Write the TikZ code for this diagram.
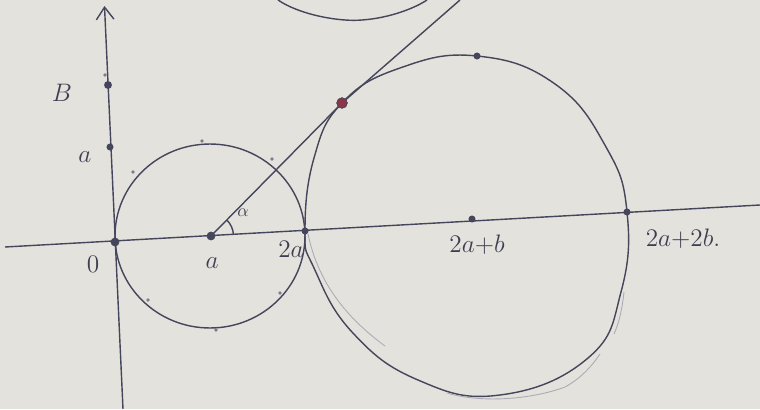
\documentclass[tikz,border=0pt]{standalone}
\usetikzlibrary{arrows.meta}
\definecolor{paper}{HTML}{E4E2DC}
\definecolor{pen}{HTML}{45455C}
\definecolor{redpen}{HTML}{8A3548}
\tikzset{
  penline/.style={draw=pen, line width=0.8pt},
  faintline/.style={draw=pen!45, line width=0.5pt},
  bigdot/.style={circle, fill=pen, inner sep=0pt, minimum size=5pt},
  reddot/.style={circle, fill=redpen, draw=pen, line width=0.3pt, inner sep=0pt, minimum size=6pt},
  tinydot/.style={circle, fill=pen!70, inner sep=0pt, minimum size=2.2pt},
  lab/.style={text=pen!90!black, font=\Large, inner sep=1pt}
}
\begin{document}
\begin{tikzpicture}[x=0.02cm, y=-0.02cm]
\fill[paper] (0,0) rectangle (760,409);
\useasboundingbox (0,0) rectangle (760,409);
% axes
\coordinate (xl) at (5,247);
\coordinate (xr) at (760,205);
\coordinate (yb) at (123,409);
\coordinate (yt) at (104.5,6);
\draw[penline] (xl) -- (xr);
\draw[penline, -{Straight Barb[length=7pt,width=10pt]}] (yb) -- (yt);
% points on axes
\node[bigdot] (O) at (115,242) {};
\node[bigdot] (A) at (211,236) {};
\node[bigdot, minimum size=4pt] (A2) at (305,231) {};
\node[bigdot, minimum size=4pt] (C) at (472,219) {};
\node[bigdot, minimum size=4pt] (D) at (627,212) {};
\node[bigdot, minimum size=4.5pt] (YB) at (108,85) {};
\node[bigdot, minimum size=4pt] (YA) at (110,147) {};
\node[tinydot] (t0) at (105,75) {};
% small circle
\draw[penline] (210,236) ellipse [x radius=1.9cm, y radius=1.84cm];
% big circle (hand drawn)
\draw[penline] plot[smooth cycle, tension=0.75] coordinates {
  (305,231) (314,158) (342,103) (400,68) (477,56) (555,84) (606,147)
  (627,212) (621,292) (588,358) (500,395) (418,380) (352,332) (314,268)};
% faint retraced strokes
\draw[faintline] (308,234) .. controls (316,272) and (336,310) .. (385,346);
\draw[faintline] (447,393) .. controls (480,403) and (530,400) .. (565,387) .. controls (580,379) and (592,366) .. (600,354);
\draw[faintline] (624,292) .. controls (622,310) and (619,323) .. (614,334);
% top partial curve
\draw[penline] (278,0) .. controls (300,15) and (340,22) .. (362,20) .. controls (390,18) and (415,8) .. (427,0);
% line through a, touching the big circle
\node[reddot] (R) at (342,103) {};
\coordinate (lt) at (460,0);
\draw[penline] (A.center) -- (R.center) -- (lt);
\node[reddot] at (R) {};
\node[bigdot, minimum size=4pt] (T) at (477,56) {};
% angle
\draw[penline] ([shift={(3:0.45cm)}]A.center) arc[start angle=3, end angle=45, radius=0.45cm];
% small dots on circles
\node[tinydot] (d1) at (202,141) {};
\node[tinydot] (d2) at (272,159) {};
\node[tinydot] (d3) at (133,172) {};
\node[tinydot] (d4) at (148,300) {};
\node[tinydot] (d5) at (280,293) {};
\node[tinydot] (d6) at (216,330) {};
% labels
\node[lab] (lB) at (62,93) {$B$};
\node[lab] (la1) at (85,157) {$a$};
\node[lab] (l0) at (93,264) {$0$};
\node[lab] (la) at (212,263) {$a$};
\node[lab] (l2a) at (291,249) {$2a$};
\node[lab] (lc) at (477,245) {$2a{+}b$};
\node[lab] (ld) at (683,239) {$2a{+}2b.$};
\node[lab, font=\normalsize] (lal) at (243,213) {$\alpha$};
\end{tikzpicture}
\end{document}
